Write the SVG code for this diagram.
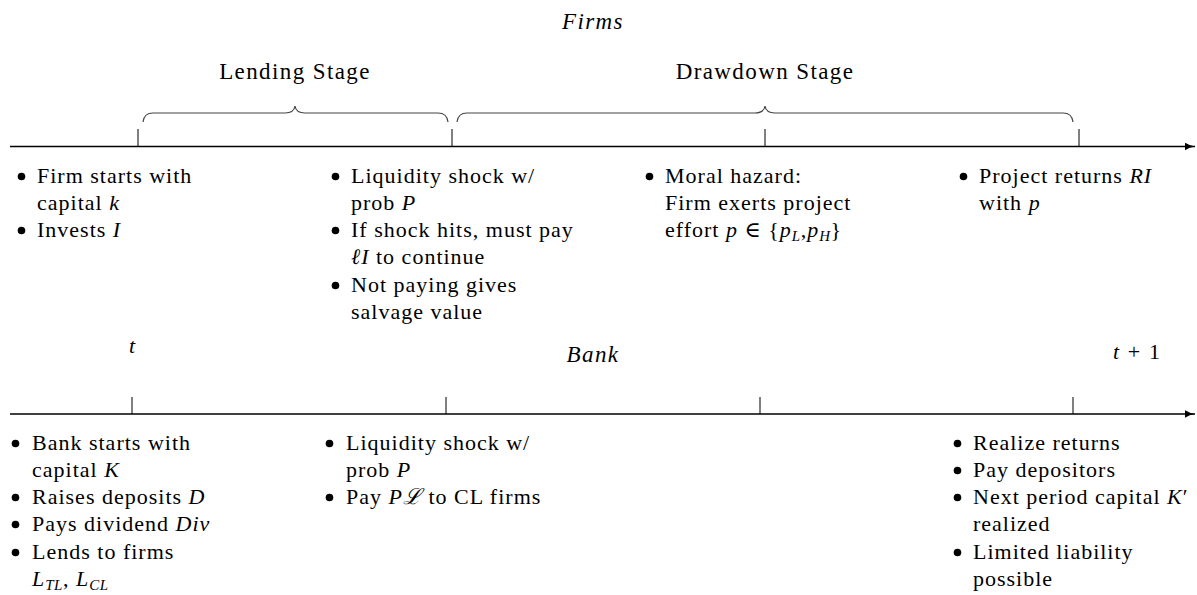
<svg xmlns="http://www.w3.org/2000/svg" width="1197" height="595" viewBox="0 0 1197 595">
<defs>
<marker id="arr" markerWidth="11" markerHeight="9" refX="10" refY="4.5" orient="auto" markerUnits="userSpaceOnUse">
<path d="M0,0.8 Q4.5,3.6 10,4.5 Q4.5,5.4 0,8.2 Z" fill="#000"/>
</marker>
<style>
text{font-family:"Liberation Serif","DejaVu Serif",serif;font-size:22px;letter-spacing:1px;fill:#000}
.i{font-style:italic}
.t{font-size:23px;letter-spacing:1.4px}
.axis{stroke:#000;stroke-width:1.6;fill:none}
.tick{stroke:#000;stroke-width:1;fill:none}
.brace{stroke:#444;stroke-width:1.2;fill:none}
.sub{font-size:15px;letter-spacing:0.5px}
.h{text-anchor:middle}
.b{fill:#000}
</style>
</defs>
<rect width="1197" height="595" fill="#fff"/>
<g id="connectors">
<line class="axis" x1="10" y1="146.5" x2="1195" y2="146.5" marker-end="url(#arr)"/>
<line class="axis" x1="10" y1="414" x2="1195" y2="414" marker-end="url(#arr)"/>
<line class="tick" x1="138" y1="129" x2="138" y2="146.5"/>
<line class="tick" x1="452" y1="129" x2="452" y2="146.5"/>
<line class="tick" x1="765" y1="129" x2="765" y2="146.5"/>
<line class="tick" x1="1079" y1="129" x2="1079" y2="146.5"/>
<line class="tick" x1="132" y1="397" x2="132" y2="414"/>
<line class="tick" x1="446" y1="397" x2="446" y2="414"/>
<line class="tick" x1="760" y1="397" x2="760" y2="414"/>
<line class="tick" x1="1073" y1="397" x2="1073" y2="414"/>
<path class="brace" d="M143,122 Q144,113 153,113 L285,113 Q294,113 295,106 Q296,113 305,113 L438,113 Q447,113 448,122"/>
<path class="brace" d="M457,122 Q458,113 467,113 L755,113 Q764,113 765,106 Q766,113 775,113 L1063,113 Q1072,113 1073,122"/>
</g>
<g id="titles">
<text class="i h t" x="593" y="29">Firms</text>
<text class="h t" x="295" y="79">Lending Stage</text>
<text class="h t" x="765" y="79">Drawdown Stage</text>
<text class="i" x="129" y="353">t</text>
<text class="i h t" x="593" y="362">Bank</text>
<text x="1113" y="359" style="letter-spacing:1.6px"><tspan class="i">t</tspan> + 1</text>
</g>
<g id="firm-lending-start">
<circle class="b" cx="21.5" cy="176.5" r="3.8"/><text x="37" y="183">Firm starts with</text>
<text x="37" y="210">capital <tspan class="i">k</tspan></text>
<circle class="b" cx="21.5" cy="230.5" r="3.8"/><text x="37" y="237">Invests <tspan class="i">I</tspan></text>
</g>
<g id="firm-liquidity-shock">
<circle class="b" cx="335.5" cy="176.5" r="3.8"/><text x="351" y="183">Liquidity shock w/</text>
<text x="351" y="210">prob <tspan class="i">P</tspan></text>
<circle class="b" cx="335.5" cy="230.5" r="3.8"/><text x="351" y="237">If shock hits, must pay</text>
<text x="351" y="264"><tspan class="i">ℓI</tspan> to continue</text>
<circle class="b" cx="335.5" cy="285.5" r="3.8"/><text x="351" y="292">Not paying gives</text>
<text x="351" y="319">salvage value</text>
</g>
<g id="firm-moral-hazard">
<circle class="b" cx="649.5" cy="176.5" r="3.8"/><text x="665" y="183">Moral hazard:</text>
<text x="665" y="210">Firm exerts project</text>
<text x="665" y="237">effort <tspan class="i">p</tspan> ∈ {<tspan class="i">p</tspan><tspan class="i sub" dy="4">L</tspan><tspan dy="-4">,</tspan><tspan class="i">p</tspan><tspan class="i sub" dy="4">H</tspan><tspan dy="-4">}</tspan></text>
</g>
<g id="firm-returns">
<circle class="b" cx="963.5" cy="176.5" r="3.8"/><text x="979" y="183">Project returns <tspan class="i">RI</tspan></text>
<text x="979" y="210">with <tspan class="i">p</tspan></text>
</g>
<g id="bank-start">
<circle class="b" cx="15.5" cy="443.5" r="3.8"/><text x="32" y="450">Bank starts with</text>
<text x="32" y="477">capital <tspan class="i">K</tspan></text>
<circle class="b" cx="15.5" cy="497.5" r="3.8"/><text x="32" y="504">Raises deposits <tspan class="i">D</tspan></text>
<circle class="b" cx="15.5" cy="524.5" r="3.8"/><text x="32" y="531">Pays dividend <tspan class="i">Div</tspan></text>
<circle class="b" cx="15.5" cy="552.5" r="3.8"/><text x="32" y="559">Lends to firms</text>
<text x="32" y="586"><tspan class="i">L</tspan><tspan class="i sub" dy="4">TL</tspan><tspan dy="-4">, </tspan><tspan class="i">L</tspan><tspan class="i sub" dy="4">CL</tspan></text>
</g>
<g id="bank-liquidity-shock">
<circle class="b" cx="329.5" cy="443.5" r="3.8"/><text x="346" y="450">Liquidity shock w/</text>
<text x="346" y="477">prob <tspan class="i">P</tspan></text>
<circle class="b" cx="329.5" cy="497.5" r="3.8"/><text x="346" y="504">Pay <tspan class="i">Pℒ</tspan> to CL firms</text>
</g>
<g id="bank-end">
<circle class="b" cx="957.5" cy="443.5" r="3.8"/><text x="973" y="450">Realize returns</text>
<circle class="b" cx="957.5" cy="470.5" r="3.8"/><text x="973" y="477">Pay depositors</text>
<circle class="b" cx="957.5" cy="497.5" r="3.8"/><text x="973" y="504">Next period capital <tspan class="i">K</tspan>′</text>
<text x="973" y="531">realized</text>
<circle class="b" cx="957.5" cy="552.5" r="3.8"/><text x="973" y="559">Limited liability</text>
<text x="973" y="586">possible</text>
</g>
</svg>
